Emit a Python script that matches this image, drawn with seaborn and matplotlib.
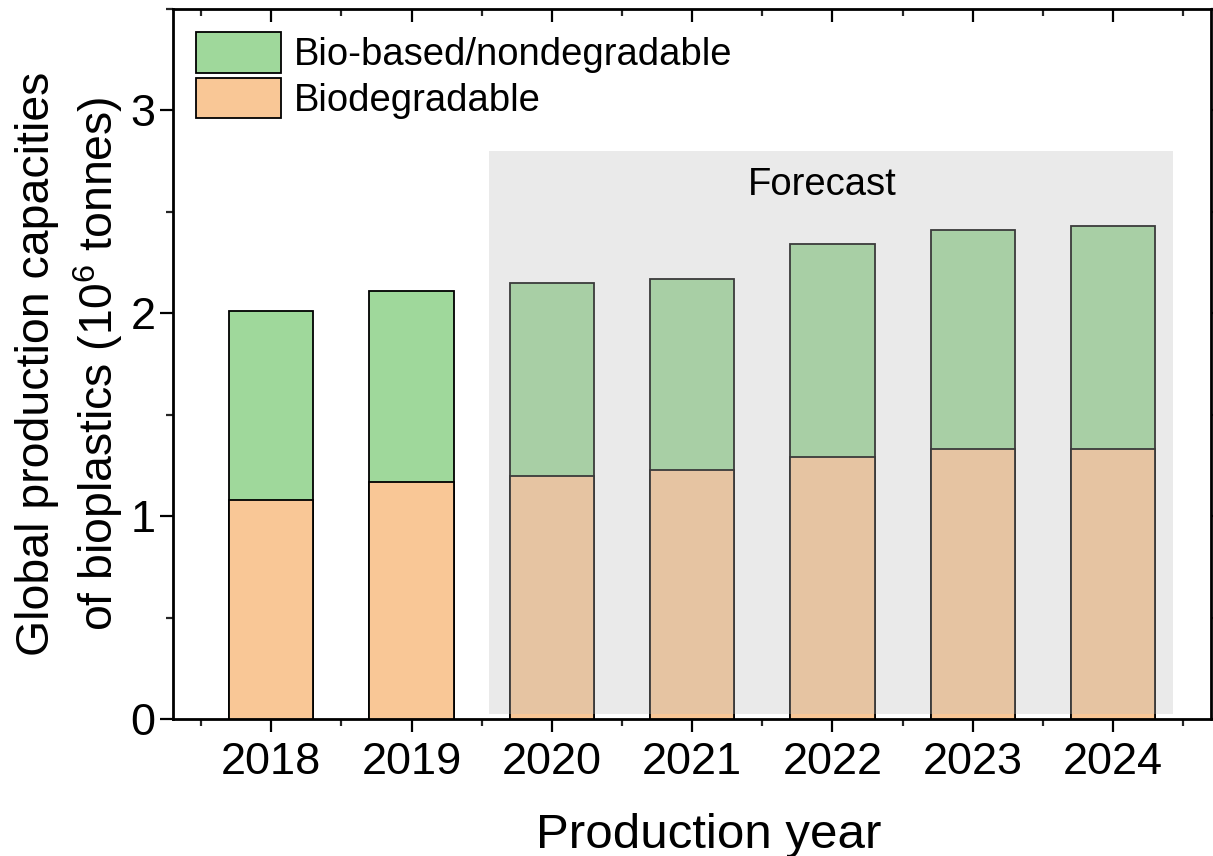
import pandas as pd
import matplotlib.pyplot as plt
import seaborn as sns
from matplotlib.patches import Rectangle, Patch
from matplotlib.ticker import MultipleLocator

years = ['2018', '2019', '2020', '2021', '2022', '2023', '2024']
biodegradable = [1.08, 1.17, 1.20, 1.23, 1.29, 1.33, 1.33]
bio_based = [0.93, 0.94, 0.95, 0.94, 1.05, 1.08, 1.10]
first_forecast = '2020'

green = '#9fd89b'
orange = '#f9c796'

sns.set_style('ticks')
plt.rcParams['font.family'] = ['Liberation Sans', 'DejaVu Sans']
plt.rcParams['mathtext.fontset'] = 'custom'
plt.rcParams['mathtext.rm'] = 'Liberation Sans'
plt.rcParams['text.color'] = 'black'
plt.rcParams['axes.labelcolor'] = 'black'

df = pd.DataFrame({'year': years, 'biodegradable': biodegradable, 'bio_based': bio_based})
df['total'] = df['biodegradable'] + df['bio_based']

fig = plt.figure(figsize=(12.13, 8.56), dpi=100)
ax = fig.add_axes([0.1426, 0.16, 0.856, 0.8295])

# stacked: total (green) first, biodegradable part on top of it from the bottom
sns.barplot(data=df, x='year', y='total', color=green, saturation=1, width=0.6,
            edgecolor='black', linewidth=1.3, ax=ax, zorder=2)
sns.barplot(data=df, x='year', y='biodegradable', color=orange, saturation=1, width=0.6,
            edgecolor='black', linewidth=1.3, ax=ax, zorder=3)

# forecast shading laid over the bars
i0 = years.index(first_forecast)
ax.add_patch(Rectangle((i0 - 0.45, 0.025), len(years) - i0 - 0.12, 2.775,
                       facecolor='#bebebe', alpha=0.31, edgecolor='none', zorder=4))
ax.text(i0 + 1.93, 2.63, 'Forecast', fontsize=27.5, ha='center', va='center', zorder=5)

ax.set_xlim(-0.7, len(years) - 0.3)
ax.set_ylim(0, 3.5)
ax.yaxis.set_major_locator(MultipleLocator(1))
ax.yaxis.set_minor_locator(MultipleLocator(0.5))
ax.xaxis.set_minor_locator(MultipleLocator(1, offset=0.5))

for s in ax.spines.values():
    s.set_linewidth(2)
    s.set_color('black')
    s.set_visible(True)

ax.tick_params(which='major', length=9.5, width=1.6, labelsize=32.5, colors='black')
ax.tick_params(which='minor', length=5, width=1.6)
ax.tick_params(which='both', top=True, right=True, labeltop=False, labelright=False)
ax.tick_params(axis='x', which='both', direction='out', pad=7)
ax.tick_params(axis='y', which='both', direction='out', pad=3)
# top and right ticks point inwards
for t in ax.xaxis.get_major_ticks() + ax.xaxis.get_minor_ticks():
    t.tick2line.set_marker(3)
for t in ax.yaxis.get_major_ticks() + ax.yaxis.get_minor_ticks():
    t.tick2line.set_marker(1)

ax.set_xlabel('Production year', fontsize=35.5)
ax.xaxis.set_label_coords(0.516, -0.132)
ax.xaxis.label.set_va('top')
ax.set_ylabel('Global production capacities\nof bioplastics (10$^{6}$ tonnes)',
              fontsize=33.4, labelpad=4, linespacing=1.28)

handles = [Patch(facecolor=green, edgecolor='black', linewidth=1.3),
           Patch(facecolor=orange, edgecolor='black', linewidth=1.3)]
ax.legend(handles, ['Bio-based/nondegradable', 'Biodegradable'], loc='upper left',
          bbox_to_anchor=(0.022, 0.968), frameon=False, fontsize=27.5,
          handlelength=2.24, handleheight=1.27, handletextpad=0.32,
          labelspacing=0.12, borderpad=0, borderaxespad=0)

fig.savefig('out.png', dpi=100)
